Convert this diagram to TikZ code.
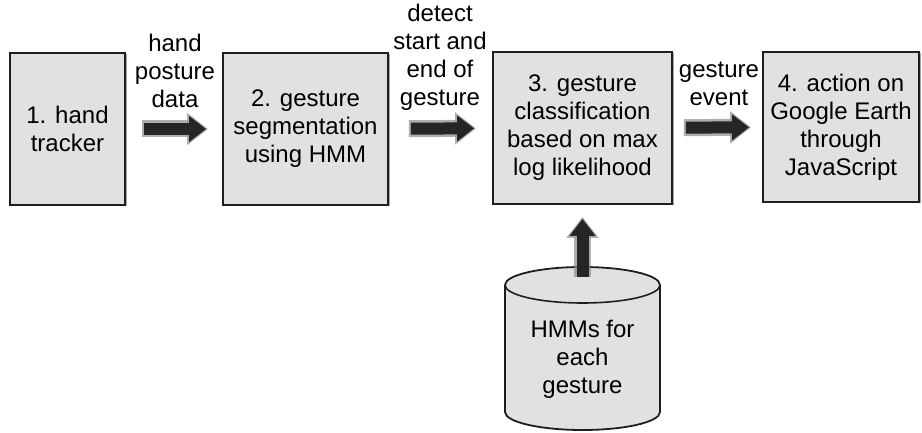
\documentclass[tikz,border=0pt]{standalone}
\usepackage{fontspec}
\setmainfont{Liberation Sans}
\usetikzlibrary{arrows.meta,shadows}
\definecolor{boxgray}{HTML}{E1E1E1}
\definecolor{edge}{HTML}{1E1E1E}
\definecolor{arrowcore}{HTML}{262626}
\definecolor{arrowglow}{HTML}{8C8C8C}
\begin{document}
\begin{tikzpicture}[x=1pt,y=-1pt,
  every node/.style={font=\fontsize{24}{28}\selectfont},
  stage/.style={draw=edge, line width=1.8pt, fill=boxgray, align=center, inner sep=0pt,
    drop shadow={shadow xshift=1.5pt, shadow yshift=-1.5pt, fill=black, opacity=0.35}},
  lbl/.style={align=center, inner sep=0pt, text depth=0pt, anchor=south},
  glow/.style={draw=arrowglow, opacity=0.7, line width=17pt, -{Triangle[length=21pt,width=31pt]}},
  core/.style={draw=arrowcore, fill=arrowcore, line width=12pt, -{Triangle[length=17pt,width=25pt]}},
]
\useasboundingbox (0,0) rectangle (922,433);

% processing stages
\node[stage, minimum width=115, minimum height=152] (b1) at (67.5,129) {1. hand\\tracker};
\node[stage, minimum width=165, minimum height=152] (b2) at (305.5,129) {2. gesture\\segmentation\\using HMM};
\node[stage, minimum width=179, minimum height=152] (b3) at (582.5,128) {3. gesture\\classification\\based on max\\log likelihood};
\node[stage, minimum width=156, minimum height=150] (b4) at (841,127) {4. action on\\Google Earth\\through\\JavaScript};

% model database (cylinder)
\draw[edge, line width=1.8pt, fill=boxgray]
  (505,285) -- (505,412) arc (180:0:77.5 and 18) -- (660,285) arc (0:-180:77.5 and 18) -- cycle;
\draw[edge, line width=1.6pt] (505,285) arc (180:0:77.5 and 18);
\node[align=center, inner sep=0pt] (db) at (582.5,359) {HMMs for\\each\\gesture};
\coordinate (dbtop) at (582.5,277);

% arrow labels
\node[lbl] (l1) at (175,108) {hand\\posture\\data};
\node[lbl] (l2) at (440,106) {detect\\start and\\end of\\gesture};
\node[lbl] (l3) at (719,106) {gesture\\event};

% fat arrows
\draw[glow, shorten <=16, shorten >=14] (b1) -- (b2);
\draw[core, shorten <=18, shorten >=16] (b1) -- (b2);
\draw[glow, shorten <=20, shorten >=16] (b2) -- (b3);
\draw[core, shorten <=22, shorten >=18] (b2) -- (b3);
\draw[glow, shorten <=11, shorten >=11] (b3) -- (b4);
\draw[core, shorten <=13, shorten >=13] (b3) -- (b4);
\draw[glow, shorten >=12] (dbtop) -- (b3.south);
\draw[core, shorten >=14] (dbtop) -- (b3.south);
\end{tikzpicture}
\end{document}
